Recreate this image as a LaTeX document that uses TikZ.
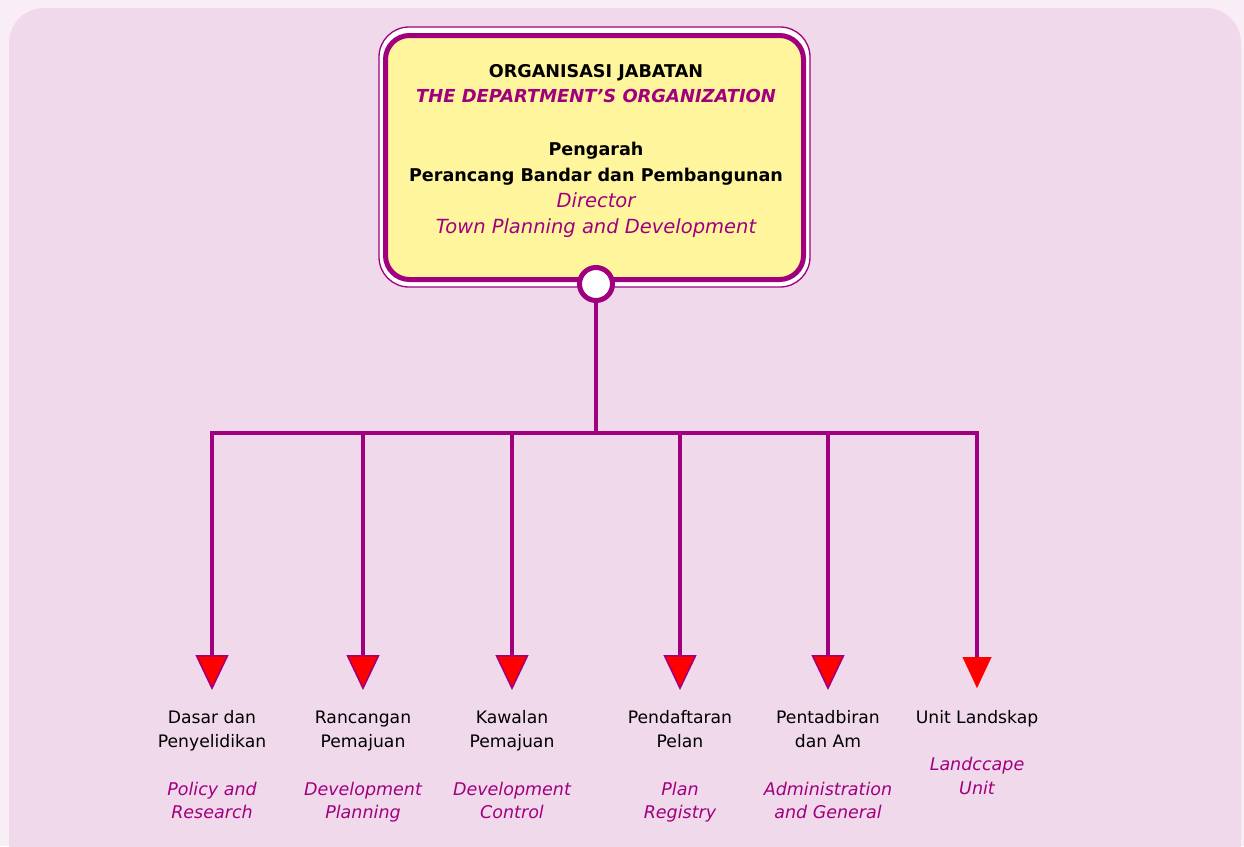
\documentclass[tikz,border=0pt]{standalone}
\usepackage{fontspec}
\setmainfont{DejaVu Sans}
\usetikzlibrary{arrows.meta,shapes.geometric}
\definecolor{bgout}{HTML}{F9EEF6}
\definecolor{bgin}{HTML}{F1D9EC}
\definecolor{pur}{HTML}{A0007E}
\definecolor{ylw}{HTML}{FFF59D}
\tikzset{
  lbl/.style={anchor=base, inner sep=0pt, text=black, font=\fontsize{17.2}{20}\selectfont},
  ilbl/.style={anchor=base, inner sep=0pt, text=pur, font=\fontsize{17.5}{20}\selectfont\itshape},
  tlbl/.style={anchor=base, inner sep=0pt, text=black, font=\fontsize{17.6}{20}\selectfont\bfseries},
  tbilbl/.style={anchor=base, inner sep=0pt, text=pur, font=\fontsize{17.9}{20}\selectfont\bfseries\itshape},
  tilbl/.style={anchor=base, inner sep=0pt, text=pur, font=\fontsize{19.5}{20}\selectfont\itshape},
  conn/.style={draw=pur, line width=4.5pt},
  arr/.style={conn, -{Triangle[width=33pt,length=35pt,fill=red,line width=1.5pt]}},
  arrred/.style={conn, -{Triangle[width=29pt,length=31pt,fill=red,color=red,line width=0.1pt]}},
}
\begin{document}
\begin{tikzpicture}[x=1pt,y=-1pt]
\useasboundingbox (0,0) rectangle (1244,846);
\fill[bgout] (0,0) rectangle (1244,846);
\fill[bgin, rounded corners=35pt] (9,8) rectangle (1241,880);
% top box
\node[draw=pur, fill=white, line width=1.3pt, rounded corners=30pt, minimum width=431pt, minimum height=260pt, inner sep=0pt] (frame) at (594.5,157) {};
\node[draw=pur, fill=ylw, line width=5pt, rounded corners=24pt, minimum width=418pt, minimum height=244pt, inner sep=0pt] (top) at (594.5,157.5) {};
\node[tlbl] (h1) at (596,77) {ORGANISASI JABATAN};
\node[tbilbl] (h2) at (596,102) {THE DEPARTMENT’S ORGANIZATION};
\node[tlbl] (h3) at (596,155) {Pengarah};
\node[tlbl] (h4) at (596,181) {Perancang Bandar dan Pembangunan};
\node[tilbl] (h5) at (596,207) {Director};
\node[tilbl] (h6) at (596,233) {Town Planning and Development};
% circle
\node[circle, draw=pur, fill=white, line width=5pt, minimum size=33pt, inner sep=0pt] (c0) at (596,284) {};
\coordinate (j) at (596,433);
\coordinate (t1) at (212,690);
\coordinate (t2) at (363,690);
\coordinate (t3) at (512,690);
\coordinate (t4) at (680,690);
\coordinate (t5) at (828,690);
\coordinate (t6) at (977,688);
\draw[conn] (c0.south) -- (j);
\draw[arr] (j) -| (t1);
\draw[arr] (j) -| (t2);
\draw[arr] (j) -| (t3);
\draw[arr] (j) -| (t4);
\draw[arr] (j) -| (t5);
\draw[arrred] (j) -| (t6);
% labels
\node[lbl] (a1) at (212,723) {Dasar dan};
\node[lbl] (a2) at (212,747) {Penyelidikan};
\node[ilbl] (a3) at (212,795) {Policy and};
\node[ilbl] (a4) at (212,818) {Research};
\node[lbl] (b1) at (363,723) {Rancangan};
\node[lbl] (b2) at (363,747) {Pemajuan};
\node[ilbl] (b3) at (363,795) {Development};
\node[ilbl] (b4) at (363,818) {Planning};
\node[lbl] (c1) at (512,723) {Kawalan};
\node[lbl] (c2) at (512,747) {Pemajuan};
\node[ilbl] (c3) at (512,795) {Development};
\node[ilbl] (c4) at (512,818) {Control};
\node[lbl] (d1) at (680,723) {Pendaftaran};
\node[lbl] (d2) at (680,747) {Pelan};
\node[ilbl] (d3) at (680,795) {Plan};
\node[ilbl] (d4) at (680,818) {Registry};
\node[lbl] (e1) at (828,723) {Pentadbiran};
\node[lbl] (e2) at (828,747) {dan Am};
\node[ilbl] (e3) at (828,795) {Administration};
\node[ilbl] (e4) at (828,818) {and General};
\node[lbl] (f1) at (977,723) {Unit Landskap};
\node[ilbl] (f3) at (977,770) {Landccape};
\node[ilbl] (f4) at (977,794) {Unit};
\end{tikzpicture}
\end{document}
